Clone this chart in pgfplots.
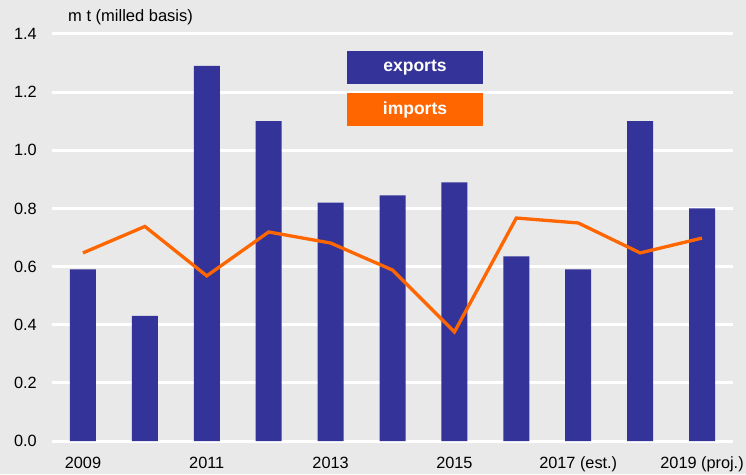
\documentclass[border=0pt]{standalone}
\usepackage{fontspec}
\setmainfont{Liberation Sans}
\usepackage{pgfplots}
\pgfplotsset{compat=1.18}
\definecolor{bg}{RGB}{233,233,233}
\definecolor{expblue}{RGB}{51,51,153}
\definecolor{imporange}{RGB}{255,102,0}
\begin{document}
\fontsize{16.5}{19}\selectfont
\begin{tikzpicture}[x=1pt,y=1pt]
\fill[bg] (0,0) rectangle (746,474);
\begin{axis}[
  at={(52pt,33pt)}, anchor=south west,
  scale only axis, width=681pt, height=407pt,
  xmin=-0.5, xmax=10.5, ymin=0, ymax=1.4,
  axis line style={draw=none},
  major tick style={draw=none},
  ytick={0,0.2,0.4,0.6,0.8,1.0,1.2,1.4},
  ymajorgrids, grid style={white, line width=3pt},
  xtick={0,2,4,6,8,10},
  xticklabels={2009,2011,2013,2015,2017 (est.),2019 (proj.)},
  /pgf/number format/assume math mode=true,
  yticklabel={\pgfmathprintnumber[fixed,fixed zerofill,precision=1]{\tick}},
  yticklabel style={anchor=east, inner sep=0pt, xshift=-15pt, font=\fontsize{16.3}{19}\selectfont},
  xticklabel style={anchor=north, inner sep=0pt, text height=11.5pt, text depth=3pt, yshift=-16pt, font=\fontsize{16.3}{19}\selectfont},
]
\addplot[ybar, bar width=0.42, bar shift=0pt, fill=expblue, draw=none] coordinates {
(0,0.59) (1,0.43) (2,1.29) (3,1.10) (4,0.82) (5,0.845) (6,0.89) (7,0.635) (8,0.59) (9,1.10) (10,0.80)};
\addplot[imporange, line width=3.3pt, mark=none] coordinates {
(0,0.647) (1,0.738) (2,0.568) (3,0.719) (4,0.681) (5,0.588) (6,0.375) (7,0.767) (8,0.750) (9,0.647) (10,0.698)};
\end{axis}
\node[anchor=base west, inner sep=0pt] at (68,452) {m t (milled basis)};
\node[fill=expblue, text=white, font=\fontsize{17.5}{20}\selectfont\bfseries, minimum width=136pt, minimum height=33pt, inner sep=0pt] at (415,406.5) {exports};
\node[fill=imporange, text=white, font=\fontsize{17.5}{20}\selectfont\bfseries, minimum width=136pt, minimum height=33pt, inner sep=0pt] at (415,364.5) {imports};
\end{tikzpicture}
\end{document}
